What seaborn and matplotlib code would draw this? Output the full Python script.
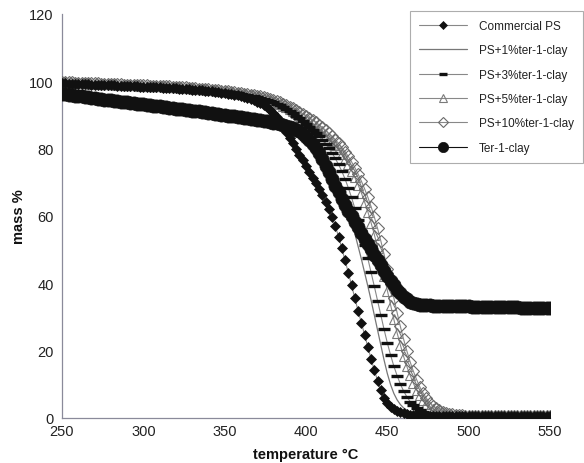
import matplotlib
matplotlib.use("Agg")
import matplotlib.pyplot as plt
import seaborn as sns
import pandas as pd

temperature = [250, 252, 254, 256, 258, 260, 262, 264, 266, 268,
               270, 272, 274, 276, 278, 280, 282, 284, 286, 288,
               290, 292, 294, 296, 298, 300, 302, 304, 306, 308,
               310, 312, 314, 316, 318, 320, 322, 324, 326, 328,
               330, 332, 334, 336, 338, 340, 342, 344, 346, 348,
               350, 352, 354, 356, 358, 360, 362, 364, 366, 368,
               370, 372, 374, 376, 378, 380, 382, 384, 386, 388,
               390, 392, 394, 396, 398, 400, 402, 404, 406, 408,
               410, 412, 414, 416, 418, 420, 422, 424, 426, 428,
               430, 432, 434, 436, 438, 440, 442, 444, 446, 448,
               450, 452, 454, 456, 458, 460, 462, 464, 466, 468,
               470, 472, 474, 476, 478, 480, 482, 484, 486, 488,
               490, 492, 494, 496, 498, 500, 502, 504, 506, 508,
               510, 512, 514, 516, 518, 520, 522, 524, 526, 528,
               530, 532, 534, 536, 538, 540, 542, 544, 546, 548,
               550]

commercial_ps = [99.4, 99.4, 99.3, 99.3, 99.2, 99.2, 99.2, 99.1, 99.1, 99.0,
                 99.0, 99.0, 98.9, 98.9, 98.8, 98.8, 98.8, 98.7, 98.7, 98.6,
                 98.6, 98.6, 98.5, 98.5, 98.4, 98.4, 98.4, 98.3, 98.3, 98.2,
                 98.2, 98.1, 98.0, 98.0, 97.9, 97.9, 97.8, 97.7, 97.7, 97.6,
                 97.5, 97.4, 97.3, 97.3, 97.2, 97.1, 97.0, 96.9, 96.7, 96.6,
                 96.5, 96.3, 96.2, 96.0, 95.8, 95.6, 95.3, 95.1, 94.7, 94.4,
                 94.0, 93.5, 93.0, 92.4, 91.6, 90.5, 89.3, 88.0, 86.6, 85.0,
                 83.3, 81.6, 79.9, 78.2, 76.5, 74.8, 73.1, 71.4, 69.7, 68.0,
                 66.2, 64.3, 62.2, 59.8, 57.0, 53.9, 50.5, 46.9, 43.2, 39.4,
                 35.6, 31.9, 28.3, 24.7, 21.1, 17.6, 14.2, 11.1, 8.2, 6.0,
                 4.4, 3.3, 2.6, 2.1, 1.7, 1.4, 1.2, 1.0, 0.9, 0.8,
                 0.7, 0.7, 0.6, 0.6, 0.6, 0.5, 0.5, 0.5, 0.5, 0.5,
                 0.5, 0.5, 0.5, 0.5, 0.5, 0.5, 0.5, 0.5, 0.5, 0.5,
                 0.5, 0.5, 0.5, 0.5, 0.5, 0.5, 0.5, 0.5, 0.5, 0.5,
                 0.5, 0.5, 0.5, 0.5, 0.5, 0.5, 0.5, 0.5, 0.5, 0.5,
                 0.5]

ps_1 = [99.5, 99.5, 99.4, 99.4, 99.3, 99.3, 99.3, 99.2, 99.2, 99.1,
        99.1, 99.1, 99.0, 99.0, 98.9, 98.9, 98.9, 98.8, 98.8, 98.7,
        98.7, 98.7, 98.6, 98.6, 98.5, 98.5, 98.5, 98.4, 98.4, 98.3,
        98.3, 98.3, 98.2, 98.2, 98.1, 98.0, 98.0, 97.9, 97.9, 97.8,
        97.7, 97.6, 97.5, 97.5, 97.4, 97.3, 97.2, 97.1, 97.0, 96.9,
        96.8, 96.7, 96.6, 96.4, 96.3, 96.1, 95.9, 95.7, 95.5, 95.3,
        95.0, 94.7, 94.4, 94.0, 93.6, 93.1, 92.6, 92.0, 91.3, 90.6,
        89.8, 89.0, 88.1, 87.2, 86.2, 85.2, 84.1, 83.0, 81.8, 80.5,
        79.1, 77.6, 76.0, 74.2, 72.2, 70.0, 67.5, 64.7, 61.6, 58.3,
        54.8, 51.1, 47.3, 43.3, 39.2, 35.0, 30.6, 26.1, 21.6, 17.2,
        13.2, 9.9, 7.3, 5.4, 4.0, 3.0, 2.3, 1.8, 1.4, 1.1,
        0.9, 0.8, 0.7, 0.6, 0.6, 0.5, 0.5, 0.5, 0.5, 0.5,
        0.5, 0.5, 0.5, 0.5, 0.5, 0.5, 0.5, 0.5, 0.5, 0.5,
        0.5, 0.5, 0.5, 0.5, 0.5, 0.5, 0.5, 0.5, 0.5, 0.5,
        0.5, 0.5, 0.5, 0.5, 0.5, 0.5, 0.5, 0.5, 0.5, 0.5,
        0.5]

ps_3 = [99.6, 99.6, 99.5, 99.5, 99.4, 99.4, 99.4, 99.3, 99.3, 99.2,
        99.2, 99.2, 99.1, 99.1, 99.0, 99.0, 99.0, 98.9, 98.9, 98.8,
        98.8, 98.8, 98.7, 98.7, 98.6, 98.6, 98.6, 98.5, 98.5, 98.4,
        98.4, 98.4, 98.3, 98.3, 98.2, 98.1, 98.1, 98.0, 98.0, 97.9,
        97.8, 97.7, 97.6, 97.6, 97.5, 97.4, 97.3, 97.2, 97.1, 97.0,
        96.9, 96.8, 96.7, 96.5, 96.4, 96.2, 96.0, 95.9, 95.7, 95.5,
        95.3, 95.1, 94.8, 94.6, 94.2, 93.8, 93.4, 92.9, 92.4, 91.8,
        91.2, 90.5, 89.8, 89.0, 88.2, 87.4, 86.5, 85.6, 84.7, 83.7,
        82.6, 81.4, 80.1, 78.7, 77.1, 75.3, 73.3, 71.0, 68.4, 65.5,
        62.3, 58.9, 55.3, 51.4, 47.4, 43.3, 39.1, 34.8, 30.5, 26.3,
        22.3, 18.7, 15.4, 12.6, 10.1, 8.0, 6.3, 4.9, 3.8, 3.0,
        2.4, 1.9, 1.5, 1.2, 1.0, 0.9, 0.8, 0.7, 0.7, 0.6,
        0.6, 0.6, 0.5, 0.5, 0.5, 0.5, 0.5, 0.5, 0.5, 0.5,
        0.5, 0.5, 0.5, 0.5, 0.5, 0.5, 0.5, 0.5, 0.5, 0.5,
        0.5, 0.5, 0.5, 0.5, 0.5, 0.5, 0.5, 0.5, 0.5, 0.5,
        0.5]

ps_5 = [99.7, 99.7, 99.6, 99.6, 99.5, 99.5, 99.5, 99.4, 99.4, 99.3,
        99.3, 99.3, 99.2, 99.2, 99.1, 99.1, 99.1, 99.0, 99.0, 98.9,
        98.9, 98.9, 98.8, 98.8, 98.7, 98.7, 98.7, 98.6, 98.6, 98.5,
        98.5, 98.5, 98.4, 98.4, 98.3, 98.2, 98.2, 98.1, 98.1, 98.0,
        97.9, 97.8, 97.7, 97.7, 97.6, 97.5, 97.4, 97.3, 97.2, 97.1,
        97.0, 96.9, 96.8, 96.6, 96.5, 96.3, 96.1, 96.0, 95.8, 95.6,
        95.4, 95.2, 95.0, 94.7, 94.4, 94.0, 93.6, 93.2, 92.8, 92.3,
        91.8, 91.3, 90.7, 90.1, 89.5, 88.9, 88.2, 87.5, 86.7, 85.9,
        85.1, 84.2, 83.2, 82.2, 81.0, 79.8, 78.4, 76.9, 75.3, 73.5,
        71.5, 69.3, 66.9, 64.2, 61.3, 58.0, 54.5, 50.6, 46.5, 42.2,
        37.8, 33.5, 29.3, 25.3, 21.7, 18.3, 15.3, 12.7, 10.3, 8.3,
        6.7, 5.3, 4.1, 3.3, 2.7, 2.2, 1.9, 1.5, 1.2, 1.0,
        0.9, 0.8, 0.7, 0.7, 0.6, 0.6, 0.5, 0.5, 0.5, 0.5,
        0.5, 0.5, 0.5, 0.5, 0.5, 0.5, 0.5, 0.5, 0.5, 0.5,
        0.5, 0.5, 0.5, 0.5, 0.5, 0.5, 0.5, 0.5, 0.5, 0.5,
        0.5]

ps_10 = [99.8, 99.8, 99.7, 99.7, 99.6, 99.6, 99.6, 99.5, 99.5, 99.4,
         99.4, 99.4, 99.3, 99.3, 99.2, 99.2, 99.2, 99.1, 99.1, 99.0,
         99.0, 99.0, 98.9, 98.9, 98.8, 98.8, 98.8, 98.7, 98.7, 98.6,
         98.6, 98.6, 98.5, 98.5, 98.4, 98.3, 98.3, 98.2, 98.2, 98.1,
         98.0, 97.9, 97.8, 97.8, 97.7, 97.6, 97.5, 97.4, 97.3, 97.2,
         97.1, 97.0, 96.9, 96.7, 96.6, 96.5, 96.3, 96.2, 96.0, 95.9,
         95.7, 95.5, 95.3, 95.0, 94.8, 94.5, 94.2, 93.8, 93.4, 93.0,
         92.5, 92.0, 91.5, 91.0, 90.4, 89.8, 89.2, 88.5, 87.8, 87.1,
         86.3, 85.5, 84.6, 83.7, 82.7, 81.6, 80.4, 79.1, 77.7, 76.1,
         74.4, 72.5, 70.4, 68.1, 65.6, 62.8, 59.7, 56.3, 52.6, 48.6,
         44.4, 40.0, 35.6, 31.3, 27.2, 23.4, 19.9, 16.7, 13.9, 11.4,
         9.2, 7.4, 5.9, 4.6, 3.6, 2.9, 2.4, 1.9, 1.6, 1.3,
         1.1, 1.0, 0.9, 0.8, 0.7, 0.7, 0.6, 0.6, 0.6, 0.5,
         0.5, 0.5, 0.5, 0.5, 0.5, 0.5, 0.5, 0.5, 0.5, 0.5,
         0.5, 0.5, 0.5, 0.5, 0.5, 0.5, 0.5, 0.5, 0.5, 0.5,
         0.5]

ter_1_clay = [96.2, 96.1, 96.0, 95.8, 95.7, 95.6, 95.5, 95.4, 95.2, 95.1,
              95.0, 94.9, 94.8, 94.6, 94.5, 94.4, 94.3, 94.2, 94.0, 93.9,
              93.8, 93.7, 93.6, 93.4, 93.3, 93.2, 93.1, 93.0, 92.8, 92.7,
              92.6, 92.4, 92.3, 92.1, 92.0, 91.9, 91.8, 91.7, 91.5, 91.4,
              91.3, 91.2, 91.1, 90.9, 90.8, 90.6, 90.5, 90.4, 90.2, 90.1,
              90.0, 89.8, 89.7, 89.6, 89.4, 89.3, 89.2, 89.1, 88.9, 88.8,
              88.6, 88.4, 88.3, 88.1, 87.9, 87.7, 87.5, 87.3, 87.0, 86.7,
              86.4, 86.0, 85.6, 85.1, 84.5, 83.6, 82.6, 81.5, 80.2, 78.7,
              77.0, 75.0, 73.0, 71.0, 69.0, 67.0, 65.1, 63.3, 61.6, 59.9,
              58.2, 56.6, 55.0, 53.3, 51.7, 50.1, 48.5, 46.9, 45.3, 43.7,
              42.2, 40.8, 39.4, 38.1, 37.0, 36.0, 35.2, 34.6, 34.2, 33.9,
              33.7, 33.6, 33.5, 33.5, 33.4, 33.4, 33.4, 33.3, 33.3, 33.3,
              33.3, 33.2, 33.2, 33.2, 33.2, 33.2, 33.1, 33.1, 33.1, 33.1,
              33.1, 33.0, 33.0, 33.0, 33.0, 33.0, 32.9, 32.9, 32.9, 32.9,
              32.9, 32.8, 32.8, 32.8, 32.8, 32.8, 32.7, 32.7, 32.7, 32.7,
              32.7]

series_labels = ["Commercial PS", "PS+1%ter-1-clay", "PS+3%ter-1-clay",
                 "PS+5%ter-1-clay", "PS+10%ter-1-clay", "Ter-1-clay"]
x_ticks = [250, 300, 350, 400, 450, 500, 550]
y_ticks = [0, 20, 40, 60, 80, 100, 120]

sns.set_style("white")
plt.rcParams["font.family"] = ["Liberation Sans", "DejaVu Sans"]

fig = plt.figure(figsize=(5.84, 4.64), dpi=100)
ax = fig.add_axes([62 / 584, 1 - 419 / 464, (550 - 62) / 584, (419 - 15) / 464])

df = pd.DataFrame({"temperature": temperature})
series_values = [commercial_ps, ps_1, ps_3, ps_5, ps_10, ter_1_clay]
styles = [
    dict(marker="D", markersize=5.5, markerfacecolor="#111111", markeredgecolor="#111111", markeredgewidth=0.5, color="#888888", linewidth=0.8, zorder=4.5),
    dict(marker=None, color="#777777", linewidth=0.9, zorder=3.5),
    dict(marker="_", markersize=8, markeredgewidth=2.4, markeredgecolor="#111111", markerfacecolor="#111111", color="#888888", linewidth=0.8, zorder=4),
    dict(marker="^", markersize=6.5, markerfacecolor="none", markeredgecolor="#7a7a7a", markeredgewidth=0.8, color="#888888", linewidth=0.8, zorder=3),
    dict(marker="D", markersize=6, markerfacecolor="none", markeredgecolor="#6a6a6a", markeredgewidth=0.8, color="#888888", linewidth=0.8, zorder=3.2),
    dict(marker="o", markersize=9.5, markerfacecolor="#111111", markeredgecolor="#111111", markeredgewidth=0.5, color="#111111", linewidth=0.8, zorder=5),
]
for label, vals, st in zip(series_labels, series_values, styles):
    d = df.assign(mass=vals)
    sns.lineplot(data=d, x="temperature", y="mass", ax=ax, label=label, **st)

ax.set_xlim(250, 550)
ax.set_ylim(0, 120)
ax.set_xticks(x_ticks)
ax.set_yticks(y_ticks)
for s in ["top", "right"]:
    ax.spines[s].set_visible(False)
for s in ["left", "bottom"]:
    ax.spines[s].set_color("#8a8a9a")
    ax.spines[s].set_linewidth(0.9)
ax.tick_params(axis="y", direction="out", length=4, width=0.8, color="#8a8a9a", labelsize=10.5, labelcolor="#222222", pad=2)
ax.tick_params(axis="x", direction="out", length=0, labelsize=10.5, labelcolor="#222222", pad=4)
ax.set_xlabel("temperature °C", fontsize=10.5, fontweight="bold", color="#111111", labelpad=7)
ax.set_ylabel("mass %", fontsize=10.5, fontweight="bold", color="#111111", labelpad=2)

leg = ax.legend(loc="upper right", bbox_to_anchor=(583 / 584, 1 - 12 / 464),
                bbox_transform=fig.transFigure, borderaxespad=0, fontsize=8.5,
                frameon=True, fancybox=False, handlelength=4.1, labelspacing=1.05,
                borderpad=0.75, handletextpad=1.0, numpoints=1, markerscale=0.78)
leg.set_zorder(10)
leg.get_frame().set_edgecolor("#999999")
leg.get_frame().set_linewidth(0.8)
for t in leg.get_texts():
    t.set_color("#222222")

fig.savefig("out.png", dpi=100)
